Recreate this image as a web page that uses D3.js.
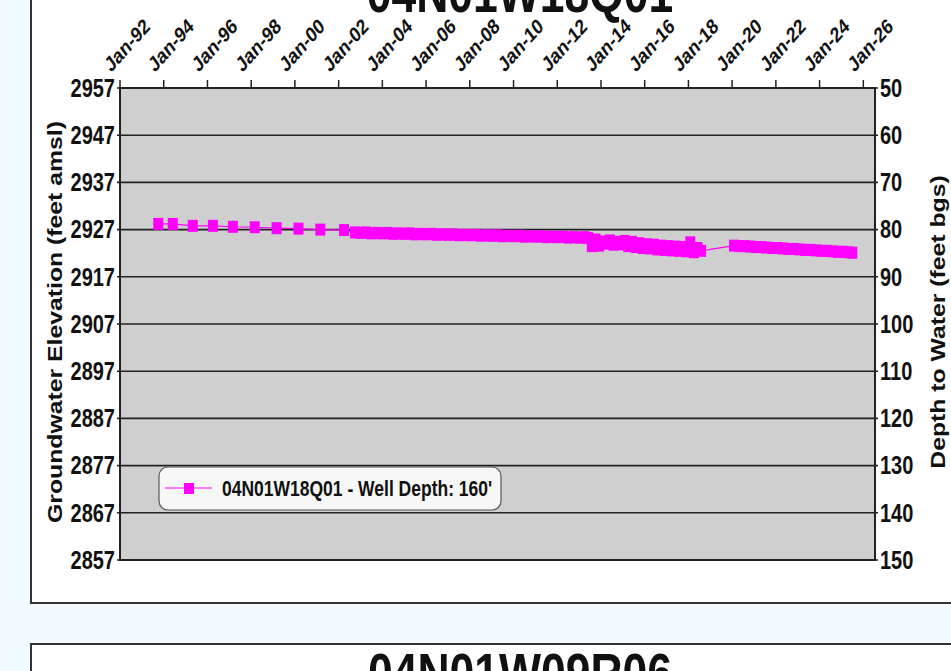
<!DOCTYPE html>
<html>
<head>
<meta charset="utf-8">
<script src="https://cdn.jsdelivr.net/npm/d3@7"></script>
<style>
  html, body { margin: 0; padding: 0; background: #f1fafd; }
  svg { display: block; }
  text { font-family: "Liberation Sans", Arial, sans-serif; font-weight: bold; fill: #111; }
</style>
</head>
<body>
<svg id="chart" width="951" height="671"></svg>
<script>
const wellId = '04N01W18Q01';
const nextWellId = '04N01W09R06';
const legendLabel = "04N01W18Q01 - Well Depth: 160'";
const groundSurface = 3007; // elevation where depth to water is 0

const elevationTicks = [2957, 2947, 2937, 2927, 2917, 2907, 2897, 2887, 2877, 2867, 2857];
const depthTicks = [50, 60, 70, 80, 90, 100, 110, 120, 130, 140, 150];
const dateTicks = ['1992-01-01', '1994-01-01', '1996-01-01', '1998-01-01', '2000-01-01', '2002-01-01',
  '2004-01-01', '2006-01-01', '2008-01-01', '2010-01-01', '2012-01-01', '2014-01-01', '2016-01-01',
  '2018-01-01', '2020-01-01', '2022-01-01', '2024-01-01', '2026-01-01'];

// measurement dates and groundwater elevations (feet amsl)
const sampleDates = [
  '1993-10-01', '1994-06-01', '1995-05-01', '1996-04-01', '1997-03-01', '1998-03-01', '1999-03-01',
  '2000-03-01', '2001-03-01', '2002-04-01',
  '2002-10-01', '2003-01-01', '2003-04-01', '2003-07-01', '2003-10-01', '2004-01-01', '2004-04-01',
  '2004-07-01', '2004-10-01', '2005-01-01', '2005-04-01', '2005-07-01', '2005-10-01', '2006-01-01',
  '2006-04-01', '2006-07-01', '2006-10-01', '2007-01-01', '2007-04-01', '2007-07-01', '2007-10-01',
  '2008-01-01', '2008-04-01', '2008-07-01', '2008-10-01', '2009-01-01', '2009-04-01', '2009-07-01',
  '2009-10-01', '2010-01-01', '2010-04-01', '2010-07-01', '2010-10-01', '2011-01-01', '2011-04-01',
  '2011-07-01', '2011-10-01', '2012-01-01', '2012-04-01', '2012-07-01', '2012-10-01', '2013-01-01',
  '2013-04-01',
  '2013-06-01', '2013-08-01', '2013-10-01', '2013-12-01', '2014-02-01', '2014-04-01', '2014-06-01',
  '2014-08-01', '2014-10-01', '2014-12-01', '2015-02-01', '2015-04-01', '2015-06-01', '2015-08-01',
  '2015-10-01', '2015-12-01', '2016-02-01', '2016-04-01', '2016-06-01', '2016-08-01', '2016-10-01',
  '2016-12-01', '2017-02-01', '2017-04-01', '2017-06-01', '2017-08-01', '2017-10-01', '2017-12-01',
  '2018-02-01', '2018-04-01', '2018-06-01', '2018-08-01',
  '2020-02-01', '2020-05-01', '2020-08-01', '2020-11-01', '2021-02-01', '2021-05-01', '2021-08-01',
  '2021-11-01', '2022-02-01', '2022-05-01', '2022-08-01', '2022-11-01', '2023-02-01', '2023-05-01',
  '2023-08-01', '2023-11-01', '2024-02-01', '2024-05-01', '2024-08-01', '2024-11-01', '2025-02-01',
  '2025-05-01', '2025-07-01'
];
const elevations = [
  2928.2, 2928.2, 2927.8, 2927.8, 2927.6, 2927.5, 2927.3,
  2927.2, 2927.0, 2926.9,
  2926.4, 2926.3, 2926.4, 2926.2, 2926.3, 2926.2, 2926.3,
  2926.1, 2926.2, 2926.1, 2926.2, 2926.0, 2926.1, 2926.0,
  2926.1, 2925.9, 2926.0, 2925.9, 2926.0, 2925.8, 2925.9,
  2925.8, 2925.9, 2925.7, 2925.8, 2925.7, 2925.8, 2925.6,
  2925.7, 2925.6, 2925.7, 2925.5, 2925.6, 2925.5, 2925.6,
  2925.4, 2925.5, 2925.4, 2925.5, 2925.3, 2925.4, 2925.3,
  2925.4,
  2925.2, 2923.5, 2924.9, 2923.6, 2924.5, 2924.0, 2924.7,
  2923.8, 2924.4, 2923.9, 2924.6, 2923.5, 2924.4, 2923.3,
  2924.1, 2923.1, 2923.9, 2923.0, 2923.8, 2922.8, 2923.6,
  2922.7, 2923.5, 2922.6, 2923.4, 2922.5, 2923.3, 2922.4,
  2924.3, 2922.2, 2923.1, 2922.5,
  2923.6, 2923.5, 2923.5, 2923.4, 2923.3, 2923.3, 2923.2,
  2923.1, 2923.1, 2923.0, 2922.9, 2922.9, 2922.8, 2922.7,
  2922.7, 2922.6, 2922.5, 2922.5, 2922.4, 2922.3, 2922.3,
  2922.2, 2922.1
];

const SY = 1.25; // the source picture is stretched vertically
const magenta = '#ff00ff';
const parse = d3.timeParse('%Y-%m-%d');
const fmt = d3.timeFormat('Jan-%y');

const plot = { left: 120, right: 875, top: 88, bottom: 560 };

const svg = d3.select('#chart');

const x = d3.scaleTime()
  .domain([parse('1992-01-01'), parse('2026-07-15')])
  .range([plot.left, plot.right]);
const y = d3.scaleLinear().domain([2857, 2957]).range([plot.bottom, plot.top]);
const yDepth = d3.scaleLinear()
  .domain([groundSurface - 2857, groundSurface - 2957])
  .range([plot.bottom, plot.top]);

function label(g, px, py, str, opts = {}) {
  const rot = opts.rotate ? ` rotate(${opts.rotate})` : '';
  return g.append('text')
    .attr('transform', `translate(${px},${py}) scale(1,${opts.sy || SY})${rot}`)
    .attr('text-anchor', opts.anchor || 'start')
    .attr('dy', opts.dy || 0)
    .attr('font-size', opts.size || 20)
    .text(str);
}

// panels
svg.append('rect')
  .attr('x', 31).attr('y', -20).attr('width', 1000).attr('height', 623)
  .attr('fill', '#fff').attr('stroke', '#333').attr('stroke-width', 2);
svg.append('rect')
  .attr('x', 31).attr('y', 644).attr('width', 1000).attr('height', 100)
  .attr('fill', '#fff').attr('stroke', '#333').attr('stroke-width', 2);

label(svg, 520, 12, wellId, { anchor: 'middle', size: 44.5 });
label(svg, 520, 692, nextWellId, { anchor: 'middle', size: 44.5 });

// plot background
svg.append('rect')
  .attr('x', plot.left).attr('y', plot.top)
  .attr('width', plot.right - plot.left).attr('height', plot.bottom - plot.top)
  .attr('fill', '#cfcfcf');

// gridlines
svg.append('g').selectAll('line').data(elevationTicks).join('line')
  .attr('x1', plot.left - 3).attr('x2', plot.right + 3)
  .attr('y1', (d) => y(d)).attr('y2', (d) => y(d))
  .attr('stroke', '#222').attr('stroke-width', 1.6);

// plot frame
svg.append('rect')
  .attr('x', plot.left).attr('y', plot.top)
  .attr('width', plot.right - plot.left).attr('height', plot.bottom - plot.top)
  .attr('fill', 'none').attr('stroke', '#222').attr('stroke-width', 2);

// top date axis
const tickDates = dateTicks.map(parse);
svg.append('g').selectAll('line').data(tickDates).join('line')
  .attr('x1', (d) => x(d)).attr('x2', (d) => x(d))
  .attr('y1', plot.top - 8).attr('y2', plot.top)
  .attr('stroke', '#222').attr('stroke-width', 1.5);
const xLabels = svg.append('g');
tickDates.forEach((d) => {
  label(xLabels, x(d) + 7, 45, fmt(d), { anchor: 'middle', size: 17, rotate: -42, dy: '0.35em' });
});

// left and right value axes
const yLabels = svg.append('g');
elevationTicks.forEach((v) => label(yLabels, 115, y(v), v, { anchor: 'end', dy: '0.35em' }));
depthTicks.forEach((v) => label(yLabels, 880, yDepth(v), v, { anchor: 'start', dy: '0.35em' }));

label(svg, 62, 322, 'Groundwater Elevation (feet amsl)', { anchor: 'middle', rotate: -90, size: 21, sy: 1.18 });
label(svg, 945, 322, 'Depth to Water (feet bgs)', { anchor: 'middle', rotate: -90, size: 21, sy: 1.18 });

// series
const points = sampleDates.map((d, i) => ({ date: parse(d), value: elevations[i] }));
const line = d3.line().x((d) => x(d.date)).y((d) => y(d.value));
svg.append('path').datum(points)
  .attr('d', line).attr('fill', 'none')
  .attr('stroke', magenta).attr('stroke-width', 1.2);
svg.append('g').selectAll('rect').data(points).join('rect')
  .attr('x', (d) => x(d.date) - 5).attr('y', (d) => y(d.value) - 6)
  .attr('width', 10).attr('height', 12)
  .attr('fill', magenta);

// legend
const lg = svg.append('g');
lg.append('rect')
  .attr('x', 159).attr('y', 467).attr('width', 342).attr('height', 43)
  .attr('rx', 9).attr('ry', 9)
  .attr('fill', '#f7f7f7').attr('stroke', '#555').attr('stroke-width', 1.2);
lg.append('line')
  .attr('x1', 165).attr('x2', 212).attr('y1', 488).attr('y2', 488)
  .attr('stroke', magenta).attr('stroke-width', 1.2);
lg.append('rect')
  .attr('x', 184).attr('y', 483).attr('width', 10).attr('height', 11)
  .attr('fill', magenta);
label(lg, 222, 488, legendLabel, { size: 17.5, dy: '0.35em' });
</script>
</body>
</html>
